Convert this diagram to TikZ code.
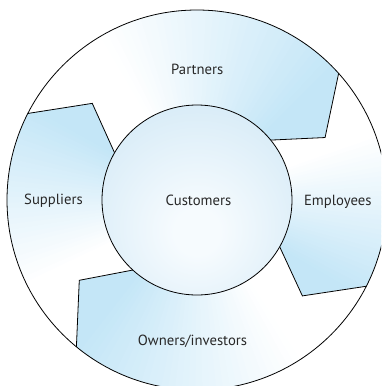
\documentclass[tikz,border=0pt]{standalone}
\usepackage{fontspec}
\setmainfont{PT Sans}
\definecolor{segblue}{RGB}{196,230,247}
\definecolor{cin}{RGB}{246,251,254}
\definecolor{cout}{RGB}{193,224,242}
\definecolor{txt}{RGB}{40,40,40}
\pgfdeclareradialshading{custcirc}{\pgfpoint{0bp}{-9bp}}{color(0bp)=(cin); color(6bp)=(cin); color(52bp)=(cout); color(90bp)=(cout)}
\tikzset{
  chev/.style={draw=black, line width=0.8pt, line join=miter},
  ring/.style={draw=black, line width=0.8pt},
  lbl/.style={font=\fontsize{14.7}{17}\selectfont, text=txt, anchor=base, inner sep=0pt}
}
% #1 prev outer, #2 prev tip, #3 prev inner, #4 own outer, #5 own tip, #6 own inner
\newcommand\segment[6]{%
  \begin{scope}
    \clip (#1:190pt) arc[start angle=#1, end angle=#4, radius=190pt]
      -- (#5:142.5pt) -- (#6:95pt) arc[start angle=#6, end angle=#3, radius=95pt]
      -- (#2:142.5pt) -- cycle;
    \foreach \k in {0,...,59} {
      \pgfmathsetmacro\wa{(#1)+3-\k*((#1)-(#5)+6)/60}
      \pgfmathsetmacro\wb{\wa-((#1)-(#5)+6)/60-0.8}
      \pgfmathsetmacro\segt{((#1)-\wa)/((#1)-(#5))}
      \pgfmathsetmacro\segp{max(0,min(100,(\segt-0.25)/0.6*100))}
      \fill[segblue!\segp!white] (0,0) -- (\wa:200pt) arc[start angle=\wa, end angle=\wb, radius=200pt] -- cycle;
    }
  \end{scope}}
\begin{document}
\begin{tikzpicture}
  \useasboundingbox (-197pt,-186pt) rectangle (184pt,200pt);
  \clip (-197pt,-186pt) rectangle (184pt,200pt);
  \fill[white] (-197pt,-186pt) rectangle (184pt,200pt);
  % segments: Partners, Employees, Owners, Suppliers
  \segment{152.9}{137.3}{150.2}{41.8}{26.0}{39.1}
  \segment{41.8}{26.0}{39.1}{-27.0}{-42.3}{-29.5}
  \segment{-27.0}{-42.3}{-29.5}{-129.4}{-145.7}{-132.5}
  \segment{-129.4}{-145.7}{-132.5}{-207.1}{-222.7}{-209.8}
  % chevron lines
  \draw[chev] (152.9:190pt) -- (137.3:142.5pt) -- (150.2:95pt);
  \draw[chev] (41.8:190pt) -- (26.0:142.5pt) -- (39.1:95pt);
  \draw[chev] (-27.0:190pt) -- (-42.3:142.5pt) -- (-29.5:95pt);
  \draw[chev] (-129.4:190pt) -- (-145.7:142.5pt) -- (-132.5:95pt);
  % circles
  \shade[shading=custcirc] (0,0) circle[radius=95pt];
  \draw[ring] (0,0) circle[radius=95pt];
  \draw[ring] (0,0) circle[radius=190pt];
  % labels
  \node[lbl] (cust) at (1.5pt,-5.7pt) {Customers};
  \node[lbl] (part) at (0.3pt,126pt) {Partners};
  \node[lbl] (empl) at (140.8pt,-5pt) {Employees};
  \node[lbl] (supp) at (-143.5pt,-4.5pt) {Suppliers};
  \node[lbl] (own) at (-4.5pt,-145pt) {Owners/investors};
\end{tikzpicture}
\end{document}
